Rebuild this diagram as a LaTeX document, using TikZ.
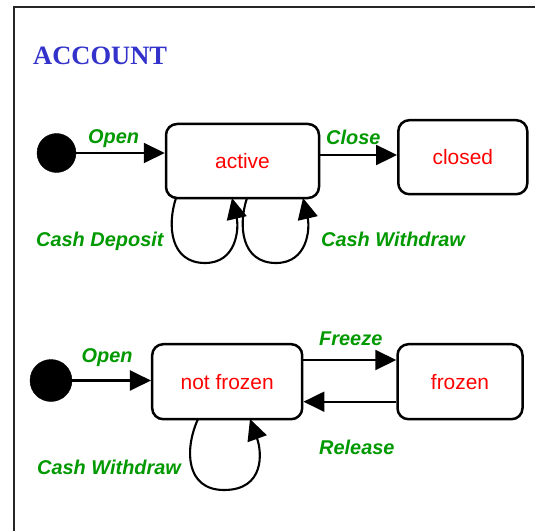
\documentclass[tikz,border=0pt]{standalone}
\usepackage{fontspec}
\setmainfont{Liberation Sans}
\newfontfamily\titlefont{Liberation Serif}
\usetikzlibrary{arrows.meta}
\definecolor{titleblue}{RGB}{51,51,204}
\definecolor{evgreen}{RGB}{0,153,0}
\definecolor{statered}{RGB}{255,0,0}
\tikzset{
  frameline/.style={line width=2.2bp, draw=black!85},
  statebox/.style={draw, line width=2.5bp, rounded corners=11bp, rectangle,
    inner sep=0pt, text=statered, font=\fontsize{21}{24}\selectfont},
  initstate/.style={circle, fill=black, draw=black, inner sep=0pt},
  trans/.style={line width=2.1bp, -{Triangle[length=21bp,width=20bp]}},
  evlabel/.style={anchor=base west, inner sep=0pt, text=evgreen,
    font=\fontsize{20}{24}\selectfont\bfseries\itshape},
}
\begin{document}
\begin{tikzpicture}[x=1bp,y=-1bp]
\useasboundingbox (0,0) rectangle (535,531);
\clip (0,0) rectangle (535,531);
\fill[white] (0,0) rectangle (535,531);

% enclosing frame (continues past the right and bottom edges)
\draw[frameline] (14,545) -- (14,7) -- (550,7);

% title
\node[anchor=base west, inner sep=0pt, text=titleblue,
  font=\titlefont\fontsize{26.6}{30}\selectfont\bfseries] (title) at (33,65) {ACCOUNT};

% ---------- upper machine ----------
\node[initstate, minimum size=39bp] (init1) at (56.5,153) {};
\node[statebox, minimum width=153bp, minimum height=74bp] (active) at (242.5,161) {active};
\node[statebox, minimum width=129bp, minimum height=74bp] (closed) at (462.8,157.2) {closed};
\coordinate (closeY) at (0,155);

\draw[trans] (init1.east) -- (init1.east -| active.west);
\draw[trans] (active.east |- closeY) -- (closed.west |- closeY);

% self loops below "active"
\coordinate (d1s) at (176,198);
\coordinate (d1e) at (232,198);
\coordinate (w1s) at (247,198);
\coordinate (w1e) at (303,198);
\draw[trans] (d1s) .. controls (167,225) and (170,263) .. (205,263)
                   .. controls (237,263) and (239,228) .. (d1e);
\draw[trans] (w1s) .. controls (238,225) and (241,263) .. (276,263)
                   .. controls (308,263) and (310,228) .. (w1e);

\node[evlabel] (lopen1) at (88,143.3) {Open};
\node[evlabel] (lclose) at (326,144.3) {Close};
\node[evlabel] (ldep) at (36,246) {Cash Deposit};
\node[evlabel] (lwd1) at (321,246) {Cash Withdraw};

% ---------- lower machine ----------
\node[initstate, minimum size=42bp] (init2) at (51,380.5) {};
\node[statebox, minimum width=150bp, minimum height=75bp] (notfrozen) at (227.2,381.7) {not frozen};
\node[statebox, minimum width=125bp, minimum height=75bp] (frozen) at (460,381.7) {frozen};
\coordinate (freezeY) at (0,360);
\coordinate (releaseY) at (0,401.7);

\draw[trans] (init2.east) -- (init2.east -| notfrozen.west);
\draw[trans] (notfrozen.east |- freezeY) -- (frozen.west |- freezeY);
\draw[trans] (frozen.west |- releaseY) -- (notfrozen.east |- releaseY);

\coordinate (w2s) at (198,419);
\coordinate (w2e) at (250,419);
\draw[trans] (w2s) .. controls (184,450) and (186,490) .. (224,490)
                   .. controls (265,490) and (262,452) .. (w2e);

\node[evlabel] (lopen2) at (81.5,362.3) {Open};
\node[evlabel] (lfreeze) at (319,345) {Freeze};
\node[evlabel] (lrelease) at (319,454) {Release};
\node[evlabel] (lwd2) at (37,474) {Cash Withdraw};
\end{tikzpicture}
\end{document}
